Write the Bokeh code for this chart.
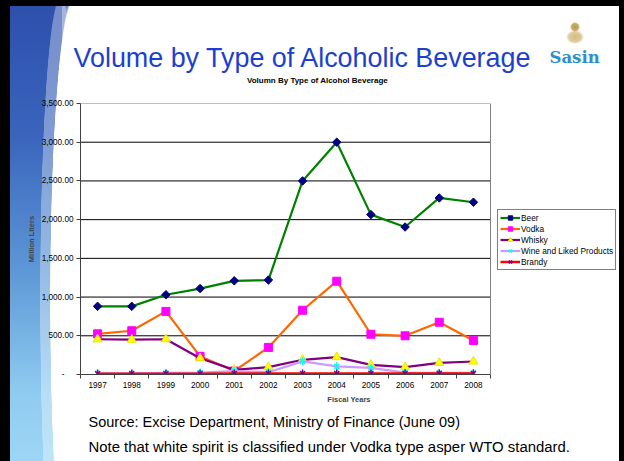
from math import pi
from bokeh.plotting import figure
from bokeh.models import Range1d, FixedTicker, NumeralTickFormatter, Label, Legend, LegendItem, Span
from bokeh.embed import file_html
from bokeh.resources import INLINE

# ---- data ----
years = [1997, 1998, 1999, 2000, 2001, 2002, 2003, 2004, 2005, 2006, 2007, 2008]
beer = [880, 880, 1030, 1110, 1210, 1220, 2500, 3000, 2065, 1905, 2280, 2225]
vodka = [525, 565, 815, 235, 45, 350, 830, 1205, 520, 500, 675, 440]
whisky = [455, 450, 455, 210, 60, 95, 190, 225, 125, 95, 150, 168]
wine = [15, 15, 20, 25, 45, 30, 170, 105, 85, 25, 20, 20]
brandy = [10, 10, 10, 10, 12, 12, 12, 12, 12, 12, 12, 12]
y_ticks = [0, 500, 1000, 1500, 2000, 2500, 3000, 3500]

FONT = "Liberation Sans"
W, H = 624, 461
FL, PR, FT, FB = 80, 490, 103, 374   # plotting area in page pixels
FR = 617                             # frame extends right to hold the legend
X0, X1, Y0, Y1 = years[0] - 0.5, years[-1] + 0.5, 0, 3500
PX_PER_X = (PR - FL) / (X1 - X0)
XF = X0 + (FR - FL) / PX_PER_X       # x value at the frame's right edge

p = figure(width=W, height=H, output_backend="svg", toolbar_location=None,
           x_range=Range1d(X0, XF), y_range=Range1d(Y0, Y1),
           min_border_left=FL, min_border_right=W - FR,
           min_border_top=FT, min_border_bottom=H - FB)
p.border_fill_color = None
p.background_fill_color = "white"
p.outline_line_color = None

# ---- axes ----
p.yaxis.ticker = FixedTicker(ticks=y_ticks)
p.yaxis.formatter = NumeralTickFormatter(format="0,0.00")
p.yaxis.major_label_overrides = {0: "-\u00a0\u00a0\u00a0\u00a0"}
p.yaxis.major_label_text_font = FONT
p.yaxis.major_label_text_font_size = "8.2px"
p.yaxis.major_label_text_color = "black"
p.yaxis.major_label_standoff = 3
p.yaxis.major_tick_out = 4
p.yaxis.major_tick_in = 0
p.yaxis.minor_tick_line_color = None
p.yaxis.axis_line_color = "#404040"
p.yaxis.major_tick_line_color = "#404040"
p.yaxis.axis_label = "Million Liters"
p.yaxis.axis_label_text_font = FONT
p.yaxis.axis_label_text_font_style = "bold"
p.yaxis.axis_label_text_font_size = "7.5px"
p.yaxis.axis_label_standoff = 3

minor_x = [y - 0.5 for y in years] + [years[-1] + 0.5]
p.xaxis.ticker = FixedTicker(ticks=years, minor_ticks=minor_x)
p.xaxis.bounds = (X0, X1)
p.xaxis.major_tick_line_color = None
p.xaxis.major_tick_out = 4
p.xaxis.major_tick_in = 0
p.xaxis.minor_tick_out = 4
p.xaxis.minor_tick_in = 0
p.xaxis.minor_tick_line_color = "#404040"
p.xaxis.axis_line_color = "#404040"
p.xaxis.major_label_text_font = FONT
p.xaxis.major_label_text_font_size = "8.2px"
p.xaxis.major_label_text_color = "black"
p.xaxis.major_label_standoff = 3
p.xaxis.axis_label = "Fiscal Years"
p.xaxis.axis_label_text_font = FONT
p.xaxis.axis_label_text_font_style = "bold"
p.xaxis.axis_label_text_font_size = "7.5px"
p.xaxis.axis_label_standoff = 4

p.xgrid.visible = False
p.ygrid.visible = False

# gridlines limited to the plotting area, and its right/top border
grid_y = [t for t in y_ticks if t > Y0]
grid_col = ["#808080" if t == Y1 else "black" for t in grid_y]
p.segment(x0=[X0] * len(grid_y), y0=grid_y, x1=[X1] * len(grid_y), y1=grid_y,
          line_color=grid_col, line_width=1)
p.add_layout(Span(location=X1, dimension="height", line_color="#808080", line_width=1))

# ---- series ----
items = []
l = p.line(years, beer, line_color="#008000", line_width=2.2)
m = p.scatter(years, beer, marker="square", angle=pi / 4, size=6,
              fill_color="#000080", line_color="#000080")
items.append(LegendItem(label="Beer", renderers=[l, m]))

l = p.line(years, vodka, line_color="#ff6600", line_width=2.2)
m = p.scatter(years, vodka, marker="square", size=8,
              fill_color="#ff00ff", line_color="#ff00ff")
items.append(LegendItem(label="Vodka", renderers=[l, m]))

l = p.line(years, whisky, line_color="#800080", line_width=2.2)
m = p.scatter(years, whisky, marker="triangle", size=9,
              fill_color="#ffff00", line_color="#e8e800")
items.append(LegendItem(label="Whisky", renderers=[l, m]))

l = p.line(years, wine, line_color="#cc99ff", line_width=2.2)
m1 = p.scatter(years, wine, marker="x", size=7, line_color="#00ffff", line_width=1.5)
m2 = p.scatter(years, wine, marker="dash", angle=pi / 2, size=8, line_color="#00ffff", line_width=1.5)
items.append(LegendItem(label="Wine and Liked Products", renderers=[l, m1, m2]))

l = p.line(years, brandy, line_color="#ff0000", line_width=2.5)
m1 = p.scatter(years, brandy, marker="x", size=7, line_color="#800080", line_width=1.5)
m2 = p.scatter(years, brandy, marker="dash", angle=pi / 2, size=8, line_color="#800080", line_width=1.5)
items.append(LegendItem(label="Brandy", renderers=[l, m1, m2]))

legend = Legend(items=items, location=(497 - FL, FB - 270))
legend.label_text_font = FONT
legend.label_text_font_size = "8.3px"
legend.label_text_color = "black"
legend.glyph_width = 20
legend.glyph_height = 11
legend.label_height = 11
legend.label_standoff = 1
legend.spacing = 0
legend.padding = 2
legend.margin = 0
legend.border_line_color = "black"
legend.border_line_width = 1
legend.background_fill_color = "white"
legend.background_fill_alpha = 1
p.add_layout(legend)


# ---- slide texts (side-panel labels, placed through the plot's scales) ----
def dx(px):
    return X0 + (px - FL) / PX_PER_X


def dy(py):
    return Y0 + (FB - py) * (Y1 - Y0) / (FB - FT)


def add_label(side, text, px, py, size, color="black", style="normal", align="left", font=FONT):
    p.add_layout(Label(x=dx(px), y=dy(py), x_units="data", y_units="data",
                       text=text, text_font=font, text_font_size=size,
                       text_color=color, text_font_style=style,
                       text_align=align, text_baseline="alphabetic"), side)


add_label("above", "Volumn By Type of Alcohol Beverage", 317, 80, "8px", style="bold", align="center")
add_label("above", "Sasin", 549, 57, "16.5px", color="#2a90cc", style="bold", font="DejaVu Serif")
add_label("above", "Volume by Type of Alcoholic Beverage", 73, 57, "26.9px", color="#1c3fd0")
add_label("below", "Source: Excise Department, Ministry of Finance (June 09)", 88, 421, "14.5px")
add_label("below", "Note that white spirit is classified under Vodka type asper WTO standard.", 88, 446, "14.9px")

# ---- slide background ----
bg = ", ".join([
    "linear-gradient(to right, #000 0px, #000 10px, transparent 10px)",
    "linear-gradient(to bottom, #000 0px, #000 6px, transparent 6px)",
    "linear-gradient(to left, #000 0px, #000 5px, transparent 5px)",
    "radial-gradient(5px 5px at 575px 27px, #b99a52 0%, #c9ad6a 70%, transparent 100%)",
    "radial-gradient(9px 7px at 575px 37px, #d2bb80 0%, #decd9e 70%, transparent 100%)",
    "linear-gradient(to right, transparent 0px, transparent 72px, #ffffff 72px)",
    "radial-gradient(24.4px 305px at 74.4px 300px, #ffffff 0%, #ffffff 98%, transparent 100%)",
    "linear-gradient(to right, transparent 0px, transparent 62px, rgba(255,255,255,0.35) 62px)",
    "radial-gradient(20.7px 305px at 60.7px 300px, rgba(255,255,255,0.35) 0%, rgba(255,255,255,0.35) 98%, transparent 100%)",
    "linear-gradient(to bottom, #2c4fab 0%, #3a65bd 30%, #5f9ad8 60%, #8fcbf0 85%, #9dd6f5 100%)",
])
p.styles = {"background": bg}

open("out.html", "w").write(file_html(p, INLINE))
